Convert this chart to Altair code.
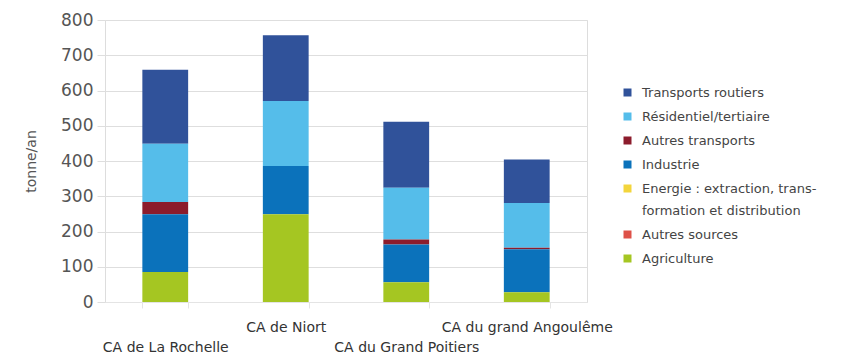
import altair as alt
import pandas as pd

territoires = ["CA de La Rochelle", "CA de Niort", "CA du Grand Poitiers", "CA du grand Angoulême"]
secteurs = [
    "Transports routiers",
    "Résidentiel/tertiaire",
    "Autres transports",
    "Industrie",
    "Energie : extraction, transformation et distribution",
    "Autres sources",
    "Agriculture",
]
couleurs = ["#30529A", "#55BDEA", "#8C1C2C", "#0B72BB", "#F3D53C", "#DE5148", "#A5C622"]

# values per sector (tonne/an), one entry per territoire
transports_routiers = [210, 187, 187, 123]
residentiel = [165, 184, 147, 127]
autres_transports = [35, 0, 14, 4]
industrie = [164, 137, 107, 122]
energie = [0, 0, 0, 0]
autres_sources = [0, 0, 0, 0]
agriculture = [85, 249, 56, 28]

series = [transports_routiers, residentiel, autres_transports, industrie, energie, autres_sources, agriculture]

rows = []
for s_i, (sect, vals) in enumerate(zip(secteurs, series)):
    for t, v in zip(territoires, vals):
        rows.append({"territoire": t, "secteur": sect, "valeur": v, "ordre": len(secteurs) - s_i})
df = pd.DataFrame(rows)

energie_label = secteurs[4]

chart = alt.Chart(df).mark_bar().encode(
    x=alt.X(
        "territoire:N",
        sort=territoires,
        title=None,
        scale=alt.Scale(paddingInner=0.62, paddingOuter=0.31),
        axis=alt.Axis(
            labelAngle=0,
            labelFont="DejaVu Sans",
            labelFontSize=14,
            labelColor="#333333",
            labelPadding=12,
            labelLineHeight=20,
            labelExpr="(datum.value == 'CA de La Rochelle' || datum.value == 'CA du Grand Poitiers') ? ['', datum.label] : datum.label",
            tickBand="extent",
            tickSize=6,
            tickColor="#e4e4e4",
            domainColor="#e4e4e4",
            labelOverlap=False,
        ),
    ),
    y=alt.Y(
        "valeur:Q",
        stack="zero",
        title="tonne/an",
        scale=alt.Scale(domain=[0, 800]),
        axis=alt.Axis(
            values=[0, 100, 200, 300, 400, 500, 600, 700, 800],
            labelFont="DejaVu Sans",
            labelFontSize=17,
            labelColor="#555555",
            labelPadding=4,
            tickSize=8,
            tickColor="#dedede",
            gridColor="#dedede",
            domain=False,
            titleFont="DejaVu Sans",
            titleFontSize=14,
            titleFontWeight="normal",
            titleColor="#555555",
            titlePadding=22,
        ),
    ),
    color=alt.Color(
        "secteur:N",
        sort=secteurs,
        scale=alt.Scale(domain=secteurs, range=couleurs),
        legend=alt.Legend(
            title=None,
            orient="none",
            legendX=516,
            legendY=66,
            symbolType="square",
            symbolSize=64,
            symbolStrokeWidth=0,
            labelFont="DejaVu Sans",
            labelFontSize=13,
            labelColor="#444444",
            labelOffset=8,
            labelLimit=300,
            rowPadding=10,
            labelExpr=f"datum.label == '{energie_label}' ? ['Energie : extraction, trans-', 'formation et distribution'] : datum.label",
        ),
    ),
    order=alt.Order("ordre:Q", sort="ascending"),
).properties(
    width=482,
    height=282,
    autosize=alt.AutoSizeParams(type="none"),
    padding={"left": 97, "top": 12, "right": 255, "bottom": 53},
).configure_view(
    stroke="#ececec"
).configure(
    background="white",
    style={"guide-label": {"lineHeight": 22}},
)

chart.save("out.html", embed_options={"renderer": "svg", "actions": False})
